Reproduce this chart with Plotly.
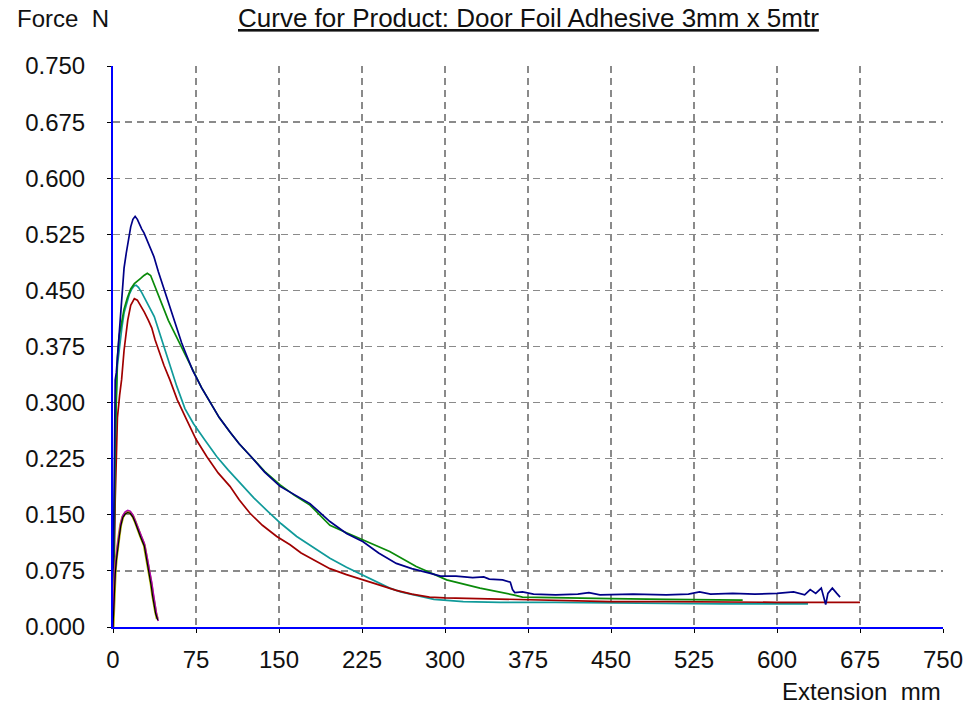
import plotly.graph_objects as go

# ---------------- data ----------------
x_ticks = [0, 75, 150, 225, 300, 375, 450, 525, 600, 675, 750]
y_ticks = [0.0, 0.075, 0.15, 0.225, 0.3, 0.375, 0.45, 0.525, 0.6, 0.675, 0.75]
y_tick_labels = ["0.000", "0.075", "0.150", "0.225", "0.300", "0.375",
                 "0.450", "0.525", "0.600", "0.675", "0.750"]

blue_x = [0, 0.5, 1, 1.5, 2, 3, 4, 5, 6, 8, 10, 12, 14, 16, 18, 20, 22, 24, 26, 28, 30,
          33, 37, 41, 46, 50, 54, 58, 62, 66, 72, 80, 88, 96, 106, 114, 124, 137, 151,
          164, 178, 196, 211, 226, 240, 256, 270, 286, 296, 310, 325, 335, 340, 352, 359,
          361, 363, 370, 380, 400, 420, 430, 440, 470, 500, 520, 530, 540, 560, 580, 600,
          615, 625, 630, 635, 640, 644, 646, 650, 654, 657]
blue_y = [0.03, 0.10, 0.23, 0.30, 0.33, 0.34, 0.36, 0.39, 0.40, 0.44, 0.48, 0.50, 0.52,
          0.535, 0.545, 0.549, 0.545, 0.538, 0.532, 0.527, 0.52, 0.51, 0.495, 0.475, 0.452,
          0.432, 0.415, 0.398, 0.38, 0.365, 0.343, 0.32, 0.30, 0.28, 0.26, 0.245, 0.229,
          0.207, 0.188, 0.177, 0.165, 0.141, 0.125, 0.114, 0.099, 0.085, 0.078, 0.072,
          0.068, 0.068, 0.066, 0.067, 0.064, 0.063, 0.060, 0.050, 0.046, 0.047, 0.044,
          0.043, 0.044, 0.046, 0.043, 0.044, 0.043, 0.044, 0.047, 0.044, 0.045, 0.044,
          0.045, 0.047, 0.043, 0.050, 0.045, 0.052, 0.030, 0.045, 0.052, 0.045, 0.040]

green_x = [0, 1, 2, 3, 4, 5.7, 8, 10, 13, 16, 19.3, 22, 25, 28, 31, 34, 38, 42, 46.4, 50,
           54, 60, 66, 70.5, 80, 88, 96, 106, 114, 124, 137, 151, 164, 178, 196, 211, 226,
           250, 274, 301.5, 331.6, 350, 361.7, 370, 400, 450, 500, 540, 569]
green_y = [0.05, 0.10, 0.25, 0.32, 0.36, 0.39, 0.41, 0.425, 0.44, 0.452, 0.459, 0.462,
           0.466, 0.47, 0.473, 0.47, 0.455, 0.438, 0.421, 0.41, 0.398, 0.38, 0.362, 0.349,
           0.32, 0.30, 0.28, 0.26, 0.245, 0.229, 0.208, 0.19, 0.176, 0.163, 0.136, 0.126,
           0.116, 0.101, 0.081, 0.063, 0.052, 0.047, 0.043, 0.040, 0.039, 0.038, 0.037,
           0.036, 0.036]

teal_x = [0, 1, 2, 3, 4, 6, 8, 10, 12.5, 14.8, 17, 19, 20.8, 23, 26, 30, 33, 37.3, 41, 44,
          50, 57.6, 65, 72.6, 83, 93.7, 104, 114.8, 127, 138.9, 152, 166, 180, 196, 211,
          226, 240, 250, 260, 271, 290, 316.5, 350, 400, 450, 500, 550, 600, 628]
teal_y = [0.03, 0.12, 0.25, 0.31, 0.35, 0.38, 0.40, 0.42, 0.435, 0.445, 0.452, 0.456,
          0.457, 0.454, 0.447, 0.435, 0.428, 0.415, 0.398, 0.384, 0.355, 0.322, 0.292,
          0.272, 0.25, 0.228, 0.21, 0.192, 0.173, 0.156, 0.138, 0.121, 0.107, 0.092, 0.08,
          0.0695, 0.06, 0.052, 0.047, 0.043, 0.037, 0.034, 0.033, 0.033, 0.032, 0.032,
          0.031, 0.031, 0.031]

red_x = [0, 1, 2, 3, 4, 6, 7.8, 10, 13.3, 16, 19.3, 22, 25, 28.3, 32, 35, 38, 42, 46, 51.5,
         58, 66.6, 75, 84.7, 95, 105.7, 114, 123.8, 135, 148, 160, 170, 183, 196, 211, 226,
         240, 256, 270, 286, 300, 331.6, 374, 400, 450, 500, 550, 600, 650, 675]
red_y = [0.03, 0.08, 0.17, 0.24, 0.28, 0.31, 0.331, 0.37, 0.41, 0.43, 0.439, 0.437, 0.43,
         0.421, 0.41, 0.40, 0.384, 0.366, 0.35, 0.33, 0.304, 0.277, 0.251, 0.228, 0.206,
         0.188, 0.17, 0.152, 0.136, 0.121, 0.11, 0.099, 0.088, 0.078, 0.07, 0.063, 0.056,
         0.049, 0.044, 0.040, 0.039, 0.038, 0.036, 0.035, 0.034, 0.034, 0.033, 0.033,
         0.033, 0.033]

black_x = [0, 0.5, 1, 2, 3, 4, 5.7, 7, 8.8, 11, 13.3, 15.5, 18, 20, 22.3, 25, 28.3, 30.5,
           32.8, 34.5, 35.8, 37, 38.5, 40.4]
black_y = [0.0, 0.02, 0.045, 0.07, 0.088, 0.103, 0.121, 0.135, 0.146, 0.151, 0.153, 0.152,
           0.147, 0.140, 0.130, 0.12, 0.108, 0.09, 0.072, 0.055, 0.041, 0.03, 0.018, 0.009]

yellow_x = [0, 0.5, 1, 2, 3, 4, 5.7, 7, 8.8, 11, 13.3, 15.5, 18, 20, 22.3, 25, 28.3, 30.5,
            32.8, 34.5, 35.8, 37, 38.5, 40]
yellow_y = [0.0, 0.025, 0.05, 0.075, 0.092, 0.106, 0.124, 0.137, 0.147, 0.152, 0.154,
            0.153, 0.148, 0.141, 0.131, 0.121, 0.109, 0.092, 0.074, 0.057, 0.043, 0.032,
            0.02, 0.011]

magenta_x = [0, 0.5, 1, 2, 3, 4, 5.7, 7, 8.8, 11, 13.3, 15.5, 18, 20, 22.3, 25, 28.3, 30.5,
             33, 35, 36.5, 38, 39.5, 41]
magenta_y = [0.0, 0.03, 0.05, 0.078, 0.095, 0.108, 0.125, 0.139, 0.149, 0.154, 0.156,
             0.155, 0.150, 0.143, 0.133, 0.123, 0.112, 0.096, 0.077, 0.06, 0.045, 0.03,
             0.016, 0.008]

# ---------------- figure ----------------
FONT = "Liberation Sans, Arial, sans-serif"
fig = go.Figure()

def add(x, y, color, width=1.7):
    fig.add_trace(go.Scatter(x=x, y=y, mode="lines",
                             line=dict(color=color, width=width),
                             hoverinfo="skip", showlegend=False))

add(teal_x, teal_y, "#109a9a")
add(red_x, red_y, "#a00000")
add(green_x, green_y, "#0a8a0a")
add(blue_x, blue_y, "#000088")
add(yellow_x, yellow_y, "#b0b000", 3)
add(magenta_x, magenta_y, "#b000b0", 1.5)
add(black_x, black_y, "#000000", 1.2)

grid = dict(showgrid=True, gridcolor="#8a8a8a", gridwidth=1.3, griddash="7px,5px")

fig.update_xaxes(range=[0, 750], tickvals=x_ticks, ticktext=[str(v) for v in x_ticks],
                 showline=True, linecolor="#0000ff", linewidth=2, zeroline=False,
                 ticks="outside", ticklen=4, tickcolor="#000000", tickwidth=1,
                 tickfont=dict(family=FONT, size=24, color="#111111"),
                 ticklabelstandoff=6, automargin=False, **grid)
fig.update_yaxes(range=[0, 0.75], tickvals=y_ticks, ticktext=y_tick_labels,
                 showline=True, linecolor="#0000ff", linewidth=2, zeroline=False,
                 ticks="outside", ticklen=4, tickcolor="#000000", tickwidth=1,
                 tickfont=dict(family=FONT, size=24, color="#111111"),
                 ticklabelstandoff=17, automargin=False, **grid)

fig.update_layout(
    width=969, height=706,
    margin=dict(l=113, r=26, t=66, b=79),
    paper_bgcolor="#ffffff", plot_bgcolor="#ffffff",
    showlegend=False,
    annotations=[
        dict(text="<u>Curve for Product: Door Foil Adhesive 3mm x 5mtr</u>",
             xref="paper", yref="paper", x=0.5, y=1, yshift=48, xshift=0,
             xanchor="center", yanchor="middle", showarrow=False,
             font=dict(family=FONT, size=26, color="#111111")),
        dict(text="Force  N", xref="paper", yref="paper", x=0, y=1,
             xshift=-2, yshift=48, xanchor="right", yanchor="middle",
             showarrow=False, font=dict(family=FONT, size=24, color="#111111")),
        dict(text="Extension  mm", xref="paper", yref="paper", x=1, y=0,
             yshift=-64, xanchor="right", yanchor="middle",
             showarrow=False, font=dict(family=FONT, size=24, color="#111111")),
    ],
)

# remove the browser's default 8px page margin so the figure fills the window exactly
fig.write_html("out.html",
               config={"displayModeBar": False, "staticPlot": True},
               post_script="document.body.style.margin='0';document.body.style.overflow='hidden';")
